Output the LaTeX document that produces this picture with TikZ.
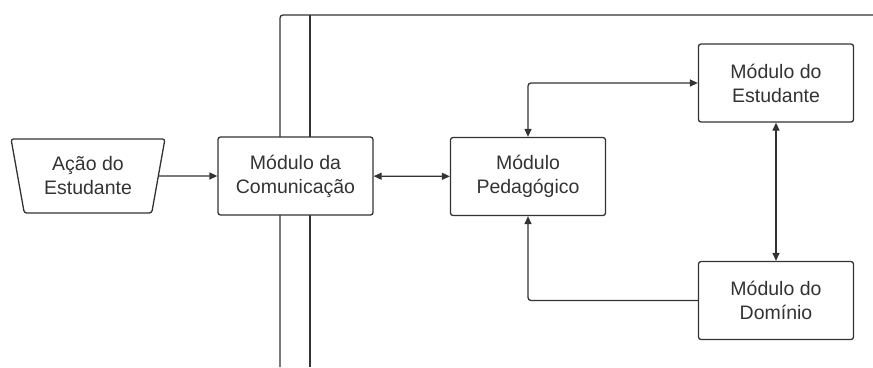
\documentclass[tikz,border=0pt]{standalone}
\usepackage{fontspec}
\setmainfont{Liberation Sans}
\usetikzlibrary{shapes.geometric,arrows.meta}
\definecolor{ink}{HTML}{333333}
\begin{document}
\begin{tikzpicture}[x=1pt,y=-1pt,
  line width=1.3pt,
  tip/.tip={Triangle[length=8pt,width=7pt]},
  module/.style={draw=ink, fill=white, rounded corners=2.5pt, align=center,
    minimum width=155pt, minimum height=78pt, text=ink, inner sep=1pt,
    font=\fontsize{19.5}{24}\selectfont},
  inputbox/.style={draw=ink, fill=white, trapezium, shape border rotate=180,
    trapezium stretches=true, trapezium angle=77, rounded corners=2.5pt,
    minimum width=154pt, minimum height=74pt, align=center, text=ink,
    inner sep=1pt, font=\fontsize{19.5}{24}\selectfont},
  link/.style={draw=ink, line width=1.3pt}]
  \useasboundingbox (0,0) rectangle (873,367);
  \fill[white] (0,0) rectangle (873,367);

  % communication channel behind the interface module
  \draw[ink, rounded corners=3pt] (280,367) -- (280,15) -- (873,15);
  \draw[ink] (310,15) -- (310,367);

  \node[inputbox] (act) at (88,176) {Ação do\\Estudante};
  \node[module] (comm) at (295.5,176) {Módulo da\\Comunicação};
  \node[module] (ped) at (528,176.5) {Módulo\\Pedagógico};
  \node[module] (est) at (776,83) {Módulo do\\Estudante};
  \node[module] (dom) at (776,300.5) {Módulo do\\Domínio};

  \draw[link,-tip] (act) -- (comm);
  \draw[link,tip-tip] (comm) -- (ped);
  \draw[link,tip-tip,rounded corners=3pt] (ped.north) |- (est.west);
  \draw[link,tip-tip] (est) -- (dom);
  \draw[link,-tip,rounded corners=3pt] (dom.west) -| (ped.south);
\end{tikzpicture}
\end{document}
